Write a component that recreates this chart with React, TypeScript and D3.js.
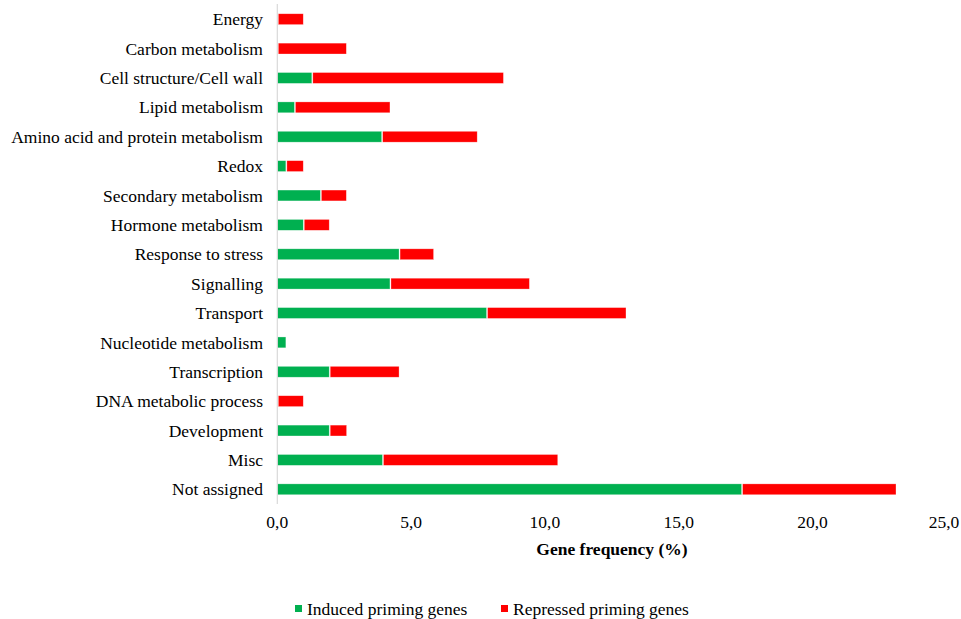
import React from "react";
import * as d3 from "d3";

const categories = [
  "Energy",
  "Carbon metabolism",
  "Cell structure/Cell wall",
  "Lipid metabolism",
  "Amino acid and protein metabolism",
  "Redox",
  "Secondary metabolism",
  "Hormone metabolism",
  "Response to stress",
  "Signalling",
  "Transport",
  "Nucleotide metabolism",
  "Transcription",
  "DNA metabolic process",
  "Development",
  "Misc",
  "Not assigned",
];
const induced = [0, 0, 1.29, 0.64, 3.9, 0.32, 1.61, 0.97, 4.55, 4.21, 7.82, 0.32, 1.94, 0, 1.94, 3.93, 17.35];
const repressed = [0.97, 2.58, 7.16, 3.57, 3.57, 0.65, 0.97, 0.97, 1.29, 5.21, 5.21, 0, 2.61, 0.97, 0.65, 6.55, 5.77];
const xTicks = [0, 5, 10, 15, 20, 25];
const seriesNames = ["Induced priming genes", "Repressed priming genes"];
const colors = ["#00B050", "#FF0000"];

export default function App() {
  const W = 961, H = 619;
  const x = d3.scaleLinear().domain([0, 25]).range([277.3, 946.3]);
  const y = d3.scaleBand().domain(categories).range([4.5, 504]).paddingInner(0.63).paddingOuter(0.315);
  const fmt = (v: number) => v.toFixed(1).replace(".", ",");
  const font = '"Liberation Serif", "Times New Roman", serif';
  const ts = { fontFamily: font };
  const fs = 17.5;
  const stackData = categories.map((c, i) => ({ cat: c, induced: induced[i], repressed: repressed[i] }));
  const stacked = d3.stack<any>().keys(["induced", "repressed"])(stackData);

  return (
    <svg width={W} height={H} style={{ position: "absolute", left: 0, top: 0, background: "#fff", fontFamily: font }}>
      <rect width={W} height={H} fill="#fff" />
      {stacked.map((s, si) =>
        s.map((d, i) => {
          const w = x(d[1]) - x(d[0]);
          if (w <= 0) return null;
          return (
            <rect
              key={si + "-" + i}
              x={x(d[0]) + (si === 1 ? 1 : 0)}
              y={y(categories[i])!}
              width={Math.max(0, w - (si === 1 ? 1 : 0))}
              height={y.bandwidth()}
              fill={colors[si]}
              stroke="#fff"
              strokeOpacity={0.5}
              strokeWidth={0.6}
            />
          );
        })
      )}
      <line x1={x(0)} x2={x(0)} y1={4} y2={504} stroke="#d9d9d9" strokeWidth={1.2} />
      {categories.map((c) => (
        <text key={c} x={263} y={y(c)! + y.bandwidth() / 2} dy="0.35em" textAnchor="end" fontSize={fs} fill="#000" style={ts}>
          {c}
        </text>
      ))}
      {xTicks.map((t) => (
        <text key={t} x={Math.min(x(t), 944)} y={528} textAnchor="middle" fontSize={fs} fill="#000" style={ts}>
          {fmt(t)}
        </text>
      ))}
      <text x={612} y={555} textAnchor="middle" fontSize={fs} fontWeight="bold" fill="#000" style={ts}>
        Gene frequency (%)
      </text>
      {seriesNames.map((n, i) => {
        const lx = i === 0 ? 295 : 501;
        return (
          <g key={n}>
            <rect x={lx} y={605} width={7} height={7} fill={colors[i]} />
            <text x={lx + 12} y={614.5} fontSize={fs} fill="#000" style={ts}>
              {n}
            </text>
          </g>
        );
      })}
    </svg>
  );
}
